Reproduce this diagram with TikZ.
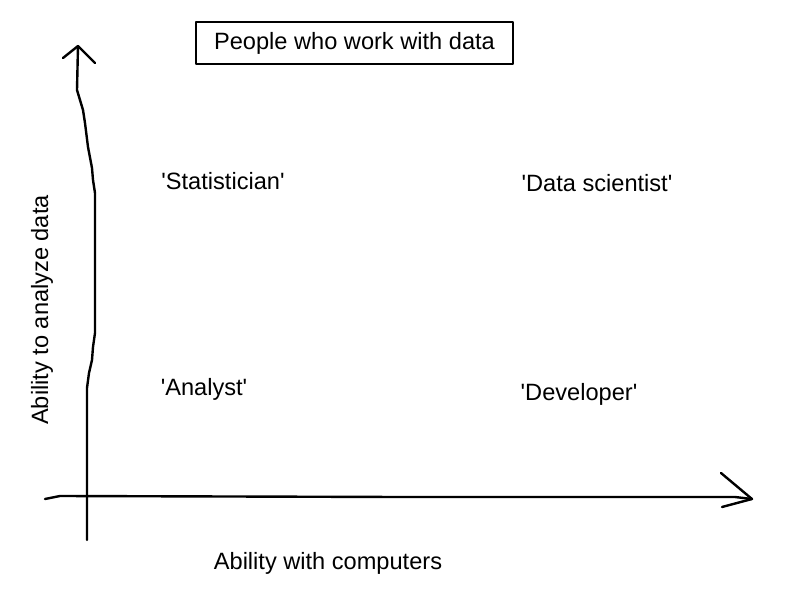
\documentclass[tikz,border=0pt]{standalone}
\usepackage{fontspec}
\setmainfont{Liberation Sans}[Ligatures=TeXOff]
\begin{document}
\begin{tikzpicture}[x=0.5pt, y=-0.5pt, line width=1.1pt, line join=round, line cap=round,
    title node/.style={draw, rectangle, minimum width=158.5pt, minimum height=21pt, inner sep=0pt},
    axis line/.style={line width=1.2pt}]
        \tikzstyle{every node}=[font=\fontsize{11.8}{14}\selectfont]
        \useasboundingbox (0,0) rectangle (800,600);

          \node[title node] (title) at (354.5,43) {People who work with data};
          \node[] (stat) at (223,181) {'Statistician'};
          \node[] (datasci) at (597,183) {'Data scientist'};
          \node[] (analyst) at (204,389) {'Analyst'};
          \node[] (dev) at (579,394) {'Developer'};
          \node[] (xlab) at (328,563) {Ability with computers};
          \node[rotate=90] (ylab) at (42,310) {Ability to analyze data};

          \coordinate (ybot) at (87,540);
          \coordinate (ytop) at (78,46);
          \coordinate (xleft) at (45,499);
          \coordinate (xright) at (752,499);

          % wobbly y axis
          \draw[axis line] (ybot) -- (87,388) -- (89,373) -- (92,360) -- (93,347) -- (95,333)
            -- (95,193) -- (93,180) -- (92,168) -- (88,147) -- (85,123) -- (83,110) -- (77,90) -- (ytop);
          \draw[axis line] (63,58) -- (ytop) -- (95,63);

          % wobbly x axis
          \draw[axis line] (xleft) -- (60,496) -- (400,497) -- (735,497) -- (xright);
          \draw[axis line] (721,473) -- (xright) -- (722,507);
\end{tikzpicture}
\end{document}
